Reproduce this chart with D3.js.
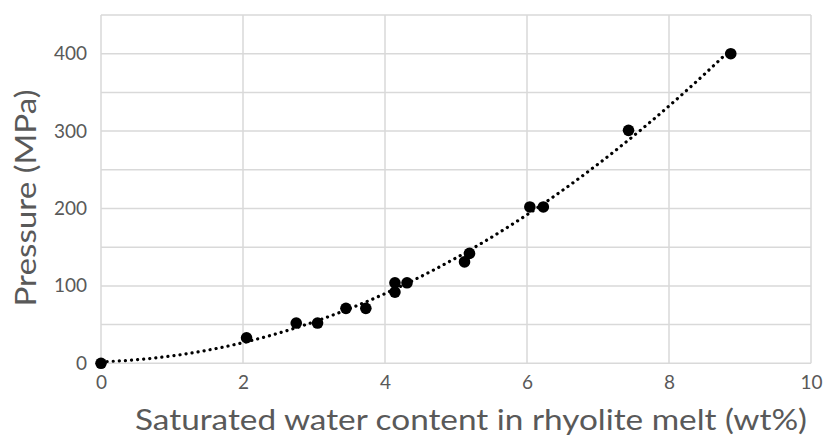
<!DOCTYPE html>
<html><head><meta charset="utf-8">
<script src="https://cdn.jsdelivr.net/npm/d3@7"></script>
<style>body{margin:0;background:#fff}svg{display:block}text{font-family:Lato,"Open Sans",sans-serif;fill:#595959}</style>
</head><body><svg id="c" width="825" height="437"></svg>
<script>
const waterContent = [0, 2.05, 2.75, 3.05, 3.45, 3.73, 4.14, 4.14, 4.31, 5.12, 5.19, 6.04, 6.23, 7.43, 8.87];
const pressure     = [0, 33, 52, 52, 71, 71, 104, 92, 104, 131, 142, 202, 202, 301, 400];
const xTicks = [0, 2, 4, 6, 8, 10];
const yTicks = [0, 100, 200, 300, 400];
const yGrid = [0, 50, 100, 150, 200, 250, 300, 350, 400, 450];
const xTitle = "Saturated water content in rhyolite melt (wt%)";
const yTitle = "Pressure (MPa)";

const svg = d3.select("#c");
const m = {l:101, r:811, t:15, b:363.3};
const x = d3.scaleLinear().domain([0,10]).range([m.l,m.r]);
const y = d3.scaleLinear().domain([0,450]).range([m.b,m.t]);

const grid = svg.append("g").attr("stroke","#d9d9d9").attr("stroke-width",1.5);
grid.selectAll("line.h").data(yGrid).join("line").attr("x1",m.l).attr("x2",m.r)
  .attr("y1",d=>y(d)).attr("y2",d=>y(d));
grid.selectAll("line.v").data(xTicks).join("line").attr("y1",m.t).attr("y2",m.b)
  .attr("x1",d=>x(d)).attr("x2",d=>x(d));

const xa = svg.append("g").attr("transform",`translate(0,${m.b})`)
  .call(d3.axisBottom(x).tickValues(xTicks).tickSize(0).tickPadding(12).tickFormat(d3.format("d")));
xa.select(".domain").remove();
xa.selectAll("text").attr("font-size",19).attr("font-family","Lato").attr("fill","#595959");
const ya = svg.append("g").attr("transform",`translate(${m.l},0)`)
  .call(d3.axisLeft(y).tickValues(yTicks).tickSize(0).tickPadding(14).tickFormat(d3.format("d")));
ya.select(".domain").remove();
ya.selectAll("text").attr("font-size",19).attr("font-family","Lato").attr("fill","#595959");

function polyfit2(xs, ys){
  let S=[0,0,0,0,0], T=[0,0,0];
  xs.forEach((xi,i)=>{ for(let k=0;k<5;k++) S[k]+=Math.pow(xi,k); for(let k=0;k<3;k++) T[k]+=ys[i]*Math.pow(xi,k); });
  const A=[[S[0],S[1],S[2],T[0]],[S[1],S[2],S[3],T[1]],[S[2],S[3],S[4],T[2]]];
  for(let i=0;i<3;i++){ for(let j=i+1;j<3;j++){ const f=A[j][i]/A[i][i]; for(let k=i;k<4;k++) A[j][k]-=f*A[i][k]; } }
  const c=[0,0,0];
  for(let i=2;i>=0;i--){ let s=A[i][3]; for(let k=i+1;k<3;k++) s-=A[i][k]*c[k]; c[i]=s/A[i][i]; }
  return c;
}
const coef = polyfit2(waterContent, pressure);
const xmax = d3.max(waterContent);
const trend = d3.range(0, xmax+0.0001, xmax/200).map(v=>[v, coef[0]+coef[1]*v+coef[2]*v*v]);
svg.append("path").datum(trend).attr("fill","none").attr("stroke","#000")
  .attr("stroke-width",3.2).attr("stroke-linecap","round").attr("stroke-dasharray","0.1 6")
  .attr("d", d3.line().x(d=>x(d[0])).y(d=>y(d[1])));

svg.append("g").selectAll("circle").data(waterContent).join("circle")
  .attr("cx",d=>x(d)).attr("cy",(d,i)=>y(pressure[i])).attr("r",5.8).attr("fill","#000");

svg.append("text").attr("x",471).attr("y",430).attr("text-anchor","middle")
  .attr("font-size",28).attr("textLength",672).attr("lengthAdjust","spacingAndGlyphs").text(xTitle);
svg.append("text").attr("transform","translate(36,198) rotate(-90)").attr("text-anchor","middle")
  .attr("font-size",29).attr("textLength",217).attr("lengthAdjust","spacingAndGlyphs").text(yTitle);
</script></body></html>
